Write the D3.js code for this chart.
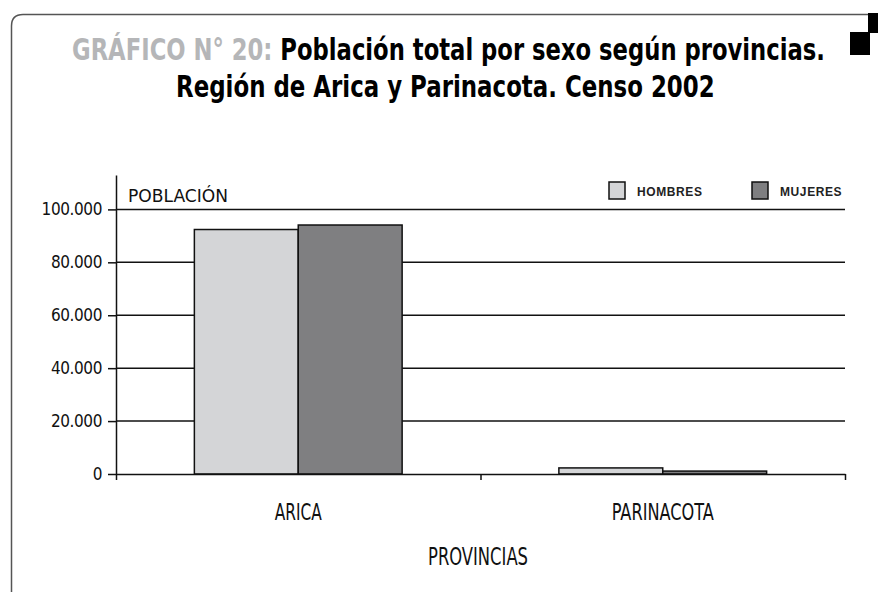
<!DOCTYPE html>
<html>
<head>
<meta charset="utf-8">
<script src="https://cdn.jsdelivr.net/npm/d3@7"></script>
<style>
  body { margin: 0; background: #fff; }
  svg { display: block; }
</style>
</head>
<body>
<div id="chart"></div>
<script>
// data
const provincias = ['ARICA', 'PARINACOTA'];
const series = ['HOMBRES', 'MUJERES'];
const hombres = [92400, 2300];
const mujeres = [94100, 1100];
const yTicks = [0, 20000, 40000, 60000, 80000, 100000];

const width = 878, height = 593;
const colors = { HOMBRES: '#d4d5d7', MUJERES: '#7f7f81' };
const narrow = '"Liberation Sans Narrow", "DejaVu Sans Condensed", "Roboto", sans-serif';

const svg = d3.select('#chart')
  .append('svg')
  .attr('width', width)
  .attr('height', height);

// frame
svg.append('path')
  .attr('d', 'M11.5,592 L11.5,26 Q11.5,14.5 23,14.5 L868,14.5')
  .attr('fill', 'none')
  .attr('stroke', '#555')
  .attr('stroke-width', 1.5);
svg.append('rect').attr('x', 850).attr('y', 32).attr('width', 20).attr('height', 23).attr('fill', '#000');
svg.append('rect').attr('x', 868).attr('y', 13).attr('width', 10).attr('height', 20).attr('fill', '#000');

// title, squeezed to the width in the picture
function fitText(sel, x0, x1) {
  const w = sel.node().getComputedTextLength();
  const y = +sel.attr('data-y');
  sel.attr('x', 0).attr('y', 0)
    .attr('transform', 'translate(' + x0 + ',' + y + ') scale(' + ((x1 - x0) / w) + ',1)');
}
const t1 = svg.append('text')
  .attr('data-y', 60)
  .style('font-family', narrow)
  .style('font-weight', 'bold')
  .style('font-size', '30px');
t1.append('tspan').attr('fill', '#b5b6b8').text('GRÁFICO N° 20: ');
t1.append('tspan').attr('fill', '#000').text('Población total por sexo según provincias.');
fitText(t1, 72, 825);

const t2 = svg.append('text')
  .attr('data-y', 97)
  .style('font-family', narrow)
  .style('font-weight', 'bold')
  .style('font-size', '30px')
  .text('Región de Arica y Parinacota. Censo 2002');
fitText(t2, 176, 715);

// scales
const left = 116, right = 845, bottom = 474;
const y = d3.scaleLinear().domain([0, 113000]).range([bottom, 175]);
const x = d3.scaleBand().domain(provincias).range([left, right])
  .paddingInner(0.43).paddingOuter(0.215);
const xs = d3.scaleBand().domain(series).range([0, x.bandwidth()]);

const locale = d3.formatLocale({ decimal: ',', thousands: '.', grouping: [3], currency: ['$', ''] });
const fmt = locale.format(',d');

// gridlines
svg.append('g')
  .selectAll('line')
  .data(yTicks.filter(d => d > 0))
  .enter()
  .append('line')
  .attr('x1', left)
  .attr('x2', right)
  .attr('y1', d => y(d))
  .attr('y2', d => y(d))
  .attr('stroke', '#111')
  .attr('stroke-width', 1.5);

// bars
const rows = provincias.map((p, i) => ({ prov: p, HOMBRES: hombres[i], MUJERES: mujeres[i] }));
svg.append('g')
  .selectAll('g')
  .data(rows)
  .enter()
  .append('g')
  .attr('transform', d => 'translate(' + x(d.prov) + ',0)')
  .selectAll('rect')
  .data(d => series.map(s => ({ key: s, value: d[s] })))
  .enter()
  .append('rect')
  .attr('x', d => xs(d.key))
  .attr('width', xs.bandwidth())
  .attr('y', d => y(d.value))
  .attr('height', d => bottom - y(d.value))
  .attr('fill', d => colors[d.key])
  .attr('stroke', '#111')
  .attr('stroke-width', 1.5);

// y axis
const yAxis = svg.append('g')
  .attr('transform', 'translate(' + left + ',0)')
  .call(d3.axisLeft(y).tickValues(yTicks).tickFormat(fmt).tickSize(8).tickSizeOuter(0));
yAxis.select('.domain').attr('stroke', '#111').attr('stroke-width', 1.5);
yAxis.selectAll('.tick line').attr('stroke', '#111').attr('stroke-width', 1.5);
yAxis.selectAll('.tick text')
  .attr('x', -14)
  .style('font-family', narrow)
  .style('font-size', '17px')
  .style('letter-spacing', '-0.4px')
  .attr('fill', '#111');

// x axis: baseline with ticks at the category boundaries
const xEdge = d3.scaleLinear().domain([0, provincias.length]).range([left, right]);
const xAxis = svg.append('g')
  .attr('transform', 'translate(0,' + bottom + ')')
  .call(d3.axisBottom(xEdge).tickValues(d3.range(provincias.length + 1)).tickFormat('').tickSize(6).tickSizeOuter(0));
xAxis.select('.domain').attr('stroke', '#111').attr('stroke-width', 1.5);
xAxis.selectAll('.tick line').attr('stroke', '#111').attr('stroke-width', 1.5);

// category labels
const xLab = svg.append('g')
  .attr('transform', 'translate(0,' + bottom + ')')
  .call(d3.axisBottom(x).tickSize(0).tickPadding(0));
xLab.select('.domain').remove();
xLab.selectAll('.tick text')
  .attr('y', 46)
  .attr('dy', 0)
  .style('font-family', narrow)
  .style('font-size', '23px')
  .attr('fill', '#111')
  .attr('lengthAdjust', 'spacingAndGlyphs')
  .attr('textLength', d => d === 'ARICA' ? 47 : 102);

// axis titles
svg.append('text')
  .attr('x', 478)
  .attr('y', 565)
  .attr('text-anchor', 'middle')
  .style('font-family', narrow)
  .style('font-size', '24px')
  .attr('fill', '#111')
  .attr('lengthAdjust', 'spacingAndGlyphs')
  .attr('textLength', 100)
  .text('PROVINCIAS');

svg.append('text')
  .attr('x', 128)
  .attr('y', 202)
  .style('font-family', narrow)
  .style('font-size', '17px')
  .attr('fill', '#111')
  .attr('lengthAdjust', 'spacingAndGlyphs')
  .attr('textLength', 100)
  .text('POBLACIÓN');

// legend
const legX = { HOMBRES: 609, MUJERES: 752 };
const leg = svg.append('g')
  .selectAll('g')
  .data(series)
  .enter()
  .append('g')
  .attr('transform', d => 'translate(' + legX[d] + ',182)');
leg.append('rect')
  .attr('width', 16)
  .attr('height', 17)
  .attr('fill', d => colors[d])
  .attr('stroke', '#111')
  .attr('stroke-width', 1.5);
leg.append('text')
  .attr('x', 28)
  .attr('y', 14)
  .style('font-family', '"Liberation Sans", Arial, sans-serif')
  .style('font-size', '12px')
  .style('font-weight', 'bold')
  .style('letter-spacing', '0.6px')
  .attr('fill', '#222')
  .text(d => d);
</script>
</body>
</html>
